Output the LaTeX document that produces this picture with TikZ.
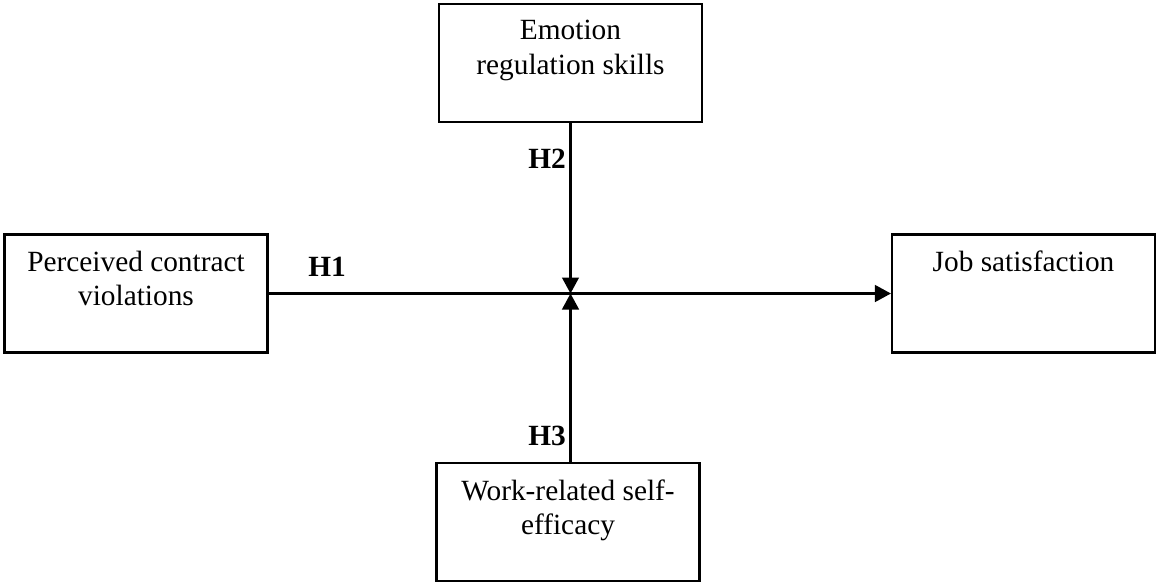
\documentclass[tikz,border=0pt]{standalone}
\usepackage{fontspec}
\setmainfont{Liberation Serif}
\usetikzlibrary{arrows.meta}

\begin{document}
\begin{tikzpicture}[x=0.75pt,y=-0.75pt,
  box/.style={draw,line width=1.8pt,minimum width=197pt,minimum height=88.5pt,inner sep=0pt},
  txt/.style={anchor=north,align=center,inner sep=0pt,font=\fontsize{22}{26}\selectfont},
  hyp/.style={inner sep=0pt,font=\fontsize{22}{26}\selectfont\bfseries},
  arr/.style={line width=1.8pt,-{Triangle[length=12pt,width=12.5pt]}}]
\useasboundingbox (0,0) rectangle (1156,583);
% the four boxes
\node[box] (emo) at (570.5,63) {};
\node[box] (pcv) at (136,293.5) {};
\node[box] (js) at (1023.5,293.5) {};
\node[box] (wse) at (568,522) {};
\node[txt] (emotxt) at ([yshift=-13pt]emo.north) {Emotion\\regulation skills};
\node[txt] (pcvtxt) at ([yshift=-13pt]pcv.north) {Perceived contract\\violations};
\node[txt] (jstxt) at ([yshift=-13pt]js.north) {Job satisfaction};
\node[txt] (wsetxt) at ([yshift=-13pt]wse.north) {Work-related self-\\efficacy};
% hypotheses
\coordinate (hub) at (emo.south |- pcv.east);
\draw[arr] (pcv) -- (js);
\draw[arr] (emo) -- (hub);
\draw[arr] (wse.north -| hub) -- (hub);
\node[hyp] (h1) at (327,267) {H1};
\node[hyp] (h2) at (547,159) {H2};
\node[hyp] (h3) at (547,436) {H3};
\end{tikzpicture}
\end{document}
